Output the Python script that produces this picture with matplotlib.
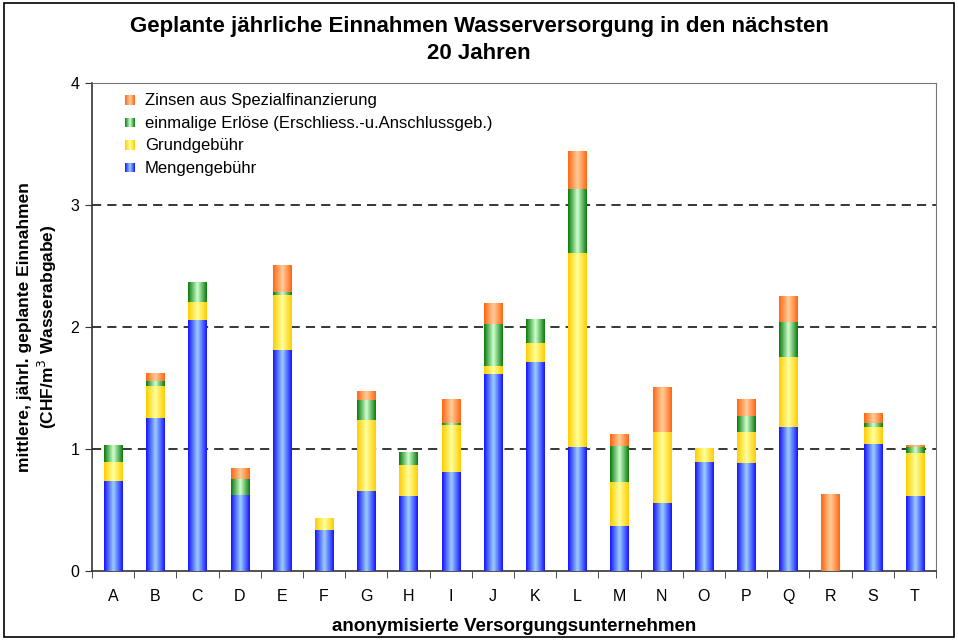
import numpy as np
import matplotlib
matplotlib.use("Agg")
import matplotlib.pyplot as plt
from matplotlib.colors import LinearSegmentedColormap
from matplotlib.patches import Rectangle, Patch
from matplotlib.legend_handler import HandlerPatch

plt.rcParams['font.family'] = ['Liberation Sans', 'DejaVu Sans']

categories = list("ABCDEFGHIJKLMNOPQRST")
mengengebuehr = [0.74, 1.257, 2.057, 0.623, 1.811, 0.336, 0.656, 0.615, 0.814, 1.615,
                 1.716, 1.016, 0.369, 0.557, 0.893, 0.885, 1.18, 0.0, 1.041, 0.615]
grundgebuehr = [0.155, 0.26, 0.148, 0.0, 0.451, 0.098, 0.582, 0.254, 0.383, 0.065,
                0.153, 1.591, 0.361, 0.582, 0.115, 0.254, 0.574, 0.0, 0.139, 0.352]
erloese = [0.14, 0.04, 0.164, 0.131, 0.025, 0.0, 0.164, 0.106, 0.013, 0.345,
           0.197, 0.524, 0.295, 0.0, 0.0, 0.131, 0.287, 0.0, 0.033, 0.049]
zinsen = [0.0, 0.065, 0.0, 0.09, 0.221, 0.0, 0.073, 0.0, 0.2, 0.172,
          0.0, 0.312, 0.098, 0.369, 0.0, 0.14, 0.213, 0.631, 0.082, 0.017]

series = [
    ("Mengengebühr", mengengebuehr, "#1414FF", "#99CCFF"),
    ("Grundgebühr", grundgebuehr, "#FFCC00", "#FFFF99"),
    ("einmalige Erlöse (Erschliess.-u.Anschlussgeb.)", erloese, "#0A7A0A", "#CCFFCC"),
    ("Zinsen aus Spezialfinanzierung", zinsen, "#FF6611", "#FFCC99"),
]

fig = plt.figure(figsize=(9.58, 6.4), dpi=100)
ax = fig.add_axes([0.096, 0.108, 0.881, 0.762])

x = np.arange(len(categories))
bottom = np.zeros(len(categories))
width = 0.43
grad = np.concatenate([np.linspace(0, 1, 50), np.linspace(1, 0, 50)])[None, :]
handles = []
for name, vals, edge, center in series:
    vals = np.array(vals)
    cmap = LinearSegmentedColormap.from_list(name, [edge, center])
    bars = ax.bar(x, vals, width, bottom=bottom, color=edge, linewidth=0, zorder=2)
    for b, v in zip(bars, vals):
        if v <= 0:
            continue
        bx, by = b.get_x(), b.get_y()
        im = ax.imshow(grad, cmap=cmap, aspect='auto', interpolation='bilinear',
                       extent=[bx, bx + b.get_width(), by, by + b.get_height()], zorder=3)
        im.set_clip_path(b)
    bottom += vals
    handles.append((name, edge, center))

ax.set_xlim(-0.5, len(categories) - 0.5)
ax.set_ylim(0, 4)
ax.set_yticks([0, 1, 2, 3, 4])
ax.set_xticks(x)
ax.set_xticklabels(categories, fontsize=11.5)
ax.tick_params(axis='x', length=0, pad=13)
ax.set_xticks(np.arange(-0.5, len(categories), 1), minor=True)
ax.tick_params(axis='x', which='minor', length=5, direction='out', color='#333333')
ax.tick_params(axis='y', labelsize=11.5, length=5, direction='out', color='#333333', pad=4)
for yv in [1, 2, 3]:
    ax.axhline(yv, color='black', linestyle=(0, (6, 4)), linewidth=1.1, zorder=1)

for s in ['top', 'right']:
    ax.spines[s].set_color('#777777')
for s in ['left', 'bottom']:
    ax.spines[s].set_color('#333333')
    ax.spines[s].set_linewidth(1.2)

ax.set_xlabel("anonymisierte Versorgungsunternehmen", fontsize=13.5, fontweight='bold', labelpad=10)
ax.set_ylabel("mittlere, jährl. geplante Einnahmen\n(CHF/m$^3$ Wasserabgabe)", fontsize=12.5,
              fontweight='bold', labelpad=8, linespacing=1.25)
fig.suptitle("Geplante jährliche Einnahmen Wasserversorgung in den nächsten\n20 Jahren",
             y=0.975, va='top', fontsize=16, fontweight='bold', linespacing=1.4)


class GradHandler(HandlerPatch):
    def create_artists(self, legend, orig_handle, xdescent, ydescent, width, height, fontsize, trans):
        arts = []
        n = 10
        cols = orig_handle._gradcols
        cm = LinearSegmentedColormap.from_list('g', [cols[0], cols[1]])
        w = height * 0.85
        x0 = -xdescent + (width - w) / 2
        for i in range(n):
            t = 1 - abs((i + 0.5) / n * 2 - 1)
            r = Rectangle((x0 + i * w / n, -ydescent + height * 0.05), w / n + 0.3, height * 0.8,
                          facecolor=cm(t), edgecolor='none', transform=trans)
            arts.append(r)
        return arts


legend_handles = []
for name, edge, center in reversed(handles):
    p = Patch(label=name)
    p._gradcols = (edge, center)
    legend_handles.append(p)
ax.legend(handles=legend_handles, loc='upper left', bbox_to_anchor=(0.025, 1.0), frameon=False,
          fontsize=12, handler_map={Patch: GradHandler()}, handlelength=0.8, handletextpad=0.5,
          labelspacing=0.45, borderaxespad=0.2)

fig.patches.append(Rectangle((0.004, 0.004), 0.992, 0.992, transform=fig.transFigure,
                             fill=False, edgecolor='black', linewidth=1.2))

fig.savefig("out.png", dpi=100)
